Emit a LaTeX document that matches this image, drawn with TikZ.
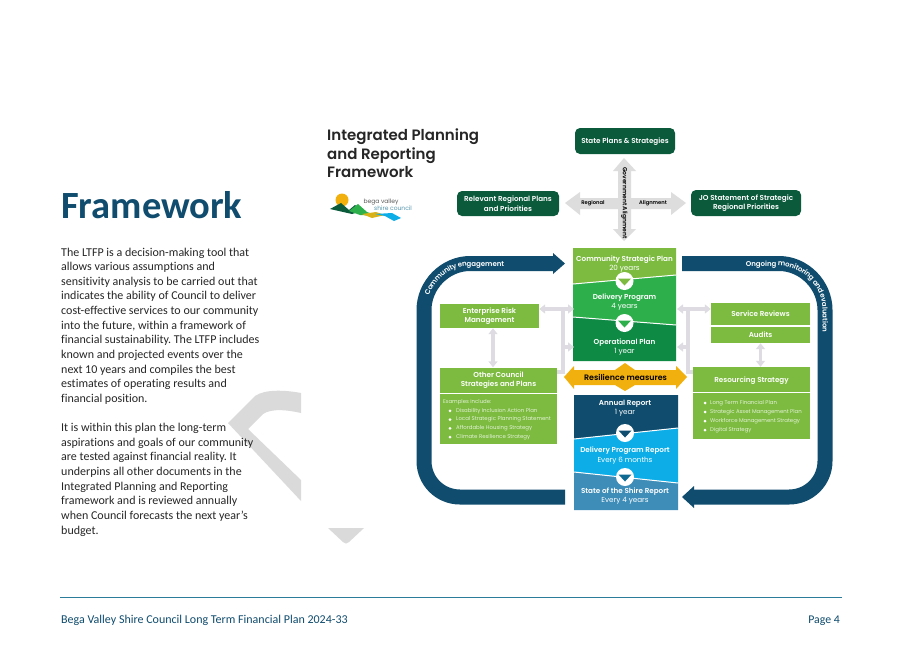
\documentclass[tikz,border=0pt]{standalone}
\usepackage{fontspec}
\setmainfont[Ligatures=NoCommon]{Carlito}
\newfontfamily\gothic[BoldFont={Poppins SemiBold}]{Poppins}
\usepackage{tikz}
\usetikzlibrary{decorations.text,arrows.meta}
\frenchspacing
\definecolor{navy}{RGB}{15,76,110}
\definecolor{teal}{RGB}{42,124,154}
\definecolor{pine}{RGB}{11,90,60}
\definecolor{leaf}{RGB}{124,187,63}
\definecolor{grass}{RGB}{45,176,75}
\definecolor{forest}{RGB}{14,138,69}
\definecolor{sky}{RGB}{13,174,232}
\definecolor{steel}{RGB}{61,141,184}
\definecolor{amber}{RGB}{242,176,14}
\definecolor{ash}{RGB}{221,221,221}
\definecolor{lilac}{RGB}{222,220,226}
\definecolor{palegrey}{RGB}{218,218,218}
\newcommand{\drawband}{\draw[navy,line width=15pt]}
\newcommand{\downmark}[3]{
    \fill[white] (#1,#2) circle (9);
    \fill[#3] (#1-6.5,#2-2.5)--(#1+6.5,#2-2.5)--(#1,#2+4.5)--cycle;
}
\tikzset{
  plainbox/.style={fill=#1,text=white,font=\gothic\bfseries\fontsize{7.2}{9.5}\selectfont,align=center,inner sep=0pt},
  roundbox/.style={plainbox=pine,rounded corners=5pt},
  leafbox/.style={plainbox=leaf},
  stacktext/.style={text=white,font=\gothic\fontsize{7.2}{9.2}\selectfont,align=center,inner sep=0pt},
  listline/.style={text=white,opacity=.8,font=\gothic\fontsize{5.4}{6}\selectfont,anchor=west,inner sep=0pt},
  bulletdot/.style={fill=white,circle,inner sep=0pt,minimum size=3pt},
  crosslabel/.style={text=black,font=\gothic\bfseries\fontsize{5.2}{6}\selectfont,inner sep=0pt},
  graylink/.style={lilac,line width=3.6pt},
  graytip/.style={lilac,line width=3.6pt,-{Triangle[length=6pt,width=9pt]}},
  graytwo/.style={lilac,line width=3.6pt,{Triangle[length=6pt,width=9pt]}-{Triangle[length=6pt,width=9pt]}},
  bandtext/.style={decorate,decoration={text along path,text align=center,raise=-2.5pt,text={|\gothic\bfseries\fontsize{7}{8}\selectfont\color{white}|#1}}}
}
\begin{document}
\begin{tikzpicture}[x=1pt,y=-1pt]
\useasboundingbox (0,0) rectangle (917,649);
\fill[white] (0,0) rectangle (917,649);
% grey shapes behind the text
\fill[palegrey] (301,393) .. controls (285,390) and (265,389) .. (255,396)--(228,423)--(301,501)--(301,480)--(248,429)--(263,414) .. controls (272,408) and (288,410) .. (301,413)--cycle;
\fill[palegrey] (328,528)--(364,528)--(349,542) .. controls (347,544) and (345,544) .. (343,542)--cycle;
% left column
\node[anchor=west,inner sep=0pt,text=navy,font=\fontsize{38.5}{38.5}\selectfont\bfseries] (heading) at (61,205) {Framework};
\node[anchor=north west,inner sep=0pt,align=left,text=black!85,font=\fontsize{12}{14.63}\selectfont] (bodytext) at (61,247.5) {The LTFP is a decision-making tool that\\allows various assumptions and\\sensitivity analysis to be carried out that\\indicates the ability of Council to deliver\\cost-effective services to our community\\into the future, within a framework of\\financial sustainability. The LTFP includes\\known and projected events over the\\next 10 years and compiles the best\\estimates of operating results and\\financial position.\\[14.63pt]It is within this plan the long-term\\aspirations and goals of our community\\are tested against financial reality. It\\underpins all other documents in the\\Integrated Planning and Reporting\\framework and is reviewed annually\\when Council forecasts the next year's\\budget.};
% footer
\draw[teal,line width=1pt] (60,597)--(842,597);
\node[anchor=west,inner sep=0pt,text=navy,font=\fontsize{12}{13}\selectfont] (footleft) at (61,620.5) {Bega Valley Shire Council Long Term Financial Plan 2024-33};
\node[anchor=east,inner sep=0pt,text=navy,font=\fontsize{11.8}{13}\selectfont] (footright) at (840,620.5) {Page 4};
% title and logo
\node[anchor=north west,inner sep=0pt,align=left,text=black!85,font=\gothic\bfseries\fontsize{15}{18.7}\selectfont] (title) at (327,128.5) {Integrated Planning\\and Reporting\\Framework};
\fill[amber] (342,200) circle (6.5);
\fill[pine] (330,209)--(341,203)--(349,210)--(355,205)--(362,211)--(352,214)--cycle;
\fill[grass] (349,211)--(358,204)--(367,212)--(378,216)--(360,215)--cycle;
\fill[amber!80!leaf] (362,214)--(376,212)--(385,215)--(372,218)--cycle;
\fill[sky] (375,214)--(392,213)--(401,218)--(394,221)--(385,216)--cycle;
\node[inner sep=0pt,text=black!65,font=\gothic\fontsize{6}{6}\selectfont] (logoone) at (381,202) {bega valley};
\node[inner sep=0pt,text=teal!80,font=\gothic\fontsize{6}{6}\selectfont] (logotwo) at (393,208) {shire council};
% top boxes
\node[roundbox,minimum width=100pt,minimum height=26pt,text depth=0pt] (state) at (625,141) {State Plans \& Strategies};
\node[roundbox,minimum width=102pt,minimum height=25pt] (regional) at (508,203.5) {Relevant Regional Plans\\and Priorities};
\node[roundbox,minimum width=110pt,minimum height=26pt] (jo) at (746,203) {JO Statement of Strategic\\Regional Priorities};
% cross
\fill[ash] (624,158)--(636,171)--(631,171)--(631,198)--(671,198)--(671,192)--(686,203)--(671,215)--(671,209)--(631,209)--(631,229)--(636,229)--(624,241)--(613,229)--(618,229)--(618,209)--(580,209)--(580,215)--(565,203)--(580,192)--(580,198)--(618,198)--(618,171)--(613,171)--cycle;
\node[crosslabel] (crossleft) at (593,203.5) {Regional};
\node[crosslabel] (crossright) at (653,203.5) {Alignment};
\node[crosslabel,rotate=-90,font=\gothic\bfseries\fontsize{6}{6}\selectfont] (crossup) at (624.5,203) {Government Alignment};
% green stack
\fill[leaf] (573,248)--(676,248)--(676,275)--(573,284)--cycle;
\fill[grass] (573,284)--(676,275)--(676,325)--(573,317)--cycle;
\fill[forest] (573,317)--(676,325)--(676,361)--(573,361)--cycle;
\draw[white,line width=1pt] (573,284)--(676,275) (573,317)--(676,325);
\downmark{624.5}{281}{leaf}
\downmark{624.5}{323}{grass}
\node[stacktext] (strategic) at (624.5,264) {\textbf{Community Strategic Plan}\\20 years};
\node[stacktext] (delivery) at (624.5,302) {\textbf{Delivery Program}\\4 years};
\node[stacktext] (operational) at (624.5,347) {\textbf{Operational Plan}\\1 year};
% resilience
\fill[amber] (564,377)--(574,366)--(574,370)--(615,370)--(625,363)--(635,370)--(676,370)--(676,366)--(687,377)--(676,389)--(676,385)--(635,385)--(625,391)--(615,385)--(574,385)--(574,389)--cycle;
\node[inner sep=0pt,text=black,font=\gothic\bfseries\fontsize{7.9}{9}\selectfont] (resilience) at (625.5,377.5) {Resilience measures};
% blue stack
\fill[navy] (574,395)--(678,395)--(678,428)--(574,439)--cycle;
\fill[sky] (574,439)--(678,428)--(678,483)--(574,472)--cycle;
\fill[steel] (574,472)--(678,483)--(678,510)--(574,510)--cycle;
\draw[white,line width=1pt] (574,439)--(678,428) (574,472)--(678,483);
\downmark{625}{433}{navy}
\downmark{625}{477}{navy!70!sky}
\node[stacktext] (annual) at (625,408.5) {\textbf{Annual Report}\\1 year};
\node[stacktext] (deliveryrep) at (625,455.5) {\textbf{Delivery Program Report}\\Every 6 months};
\node[stacktext] (shire) at (625,496) {\textbf{State of the Shire Report}\\Every 4 years};
% bands
\drawband (553,263.5)--(470,263.5) .. controls (445,263.5) and (424,285) .. (424,310)--(424,461) .. controls (424,481) and (440,497) .. (460,497)--(565,497);
\fill[navy] (553,253)--(565,263.5)--(553,274)--cycle;
\drawband (682,263.5)--(779,263.5) .. controls (804,263.5) and (825,285) .. (825,310)--(825,461) .. controls (825,481) and (809,497) .. (789,497)--(694,497);
\fill[navy] (694,486)--(682,497)--(694,508)--cycle;
\path[bandtext=Community engagement] (424,310) .. controls (424,285) and (445,263.5) .. (470,263.5)--(520,263.5);
\path[bandtext=Ongoing monitoring and evaluation] (733,263.5)--(779,263.5) .. controls (804,263.5) and (825,285) .. (825,310)--(825,345);
% side boxes
\node[leafbox,minimum width=99pt,minimum height=24pt] (risk) at (489.5,316) {Enterprise Risk\\Management};
\node[leafbox,minimum width=117pt,minimum height=25pt] (other) at (498.5,380) {Other Council\\Strategies and Plans};
\node[leafbox,minimum width=117pt,minimum height=50pt] (otherlist) at (498.5,419) {};
\node[leafbox,minimum width=99pt,minimum height=22pt,text depth=0pt] (reviews) at (760.5,314) {Service Reviews};
\node[leafbox,minimum width=99pt,minimum height=16pt] (audits) at (760.5,335) {Audits};
\node[leafbox,minimum width=117pt,minimum height=25pt,text depth=0pt] (resourcing) at (751.5,379.5) {Resourcing Strategy};
\node[leafbox,minimum width=117pt,minimum height=46pt] (reslist) at (751.5,416) {};
\node[listline] (examples) at (443,402) {Examples include:};
\foreach \txt [count=\i] in {Disability Inclusion Action Plan,Local Strategic Planning Statement,Affordable Housing Strategy,Climate Resilience Strategy}{
    \node[bulletdot] (ldot\i) at (450,{402+8.8*\i}) {};
    \node[listline] (lline\i) at (456,{402+8.8*\i}) {\txt};
}
\foreach \txt [count=\i] in {Long Term Financial Plan,Strategic Asset Management Plan,Workforce Management Strategy,Digital Strategy}{
    \node[bulletdot] (rdot\i) at (705,{394+9*\i}) {};
    \node[listline] (rline\i) at (710,{394+9*\i}) {\txt};
}
% grey connectors
\coordinate (lefttop) at (574,309);
\coordinate (leftmid) at (574,347);
\coordinate (leftbar) at (563,309);
\coordinate (leftjoin) at (563,347);
\coordinate (rightstack) at (677,309);
\coordinate (rightmid) at (677,347);
\coordinate (rightbar) at (688,309);
\coordinate (rightjoin) at (688,347);
\draw[graytwo] (risk.east|-lefttop)--(lefttop);
\draw[graylink] (leftbar)--(563,372)--(other.east|-0,372);
\draw[graytip] (leftjoin)--(leftmid);
\draw[graytwo] (rightstack)--(reviews.west|-rightstack);
\draw[graylink] (rightbar)--(688,372)--(resourcing.west|-0,372);
\draw[graytip] (rightjoin)--(rightmid);
\draw[graytwo] (risk.south-|493,0)--(other.north-|493,0);
\draw[graytwo] (audits.south)--(resourcing.north-|audits.south);
\end{tikzpicture}
\end{document}
